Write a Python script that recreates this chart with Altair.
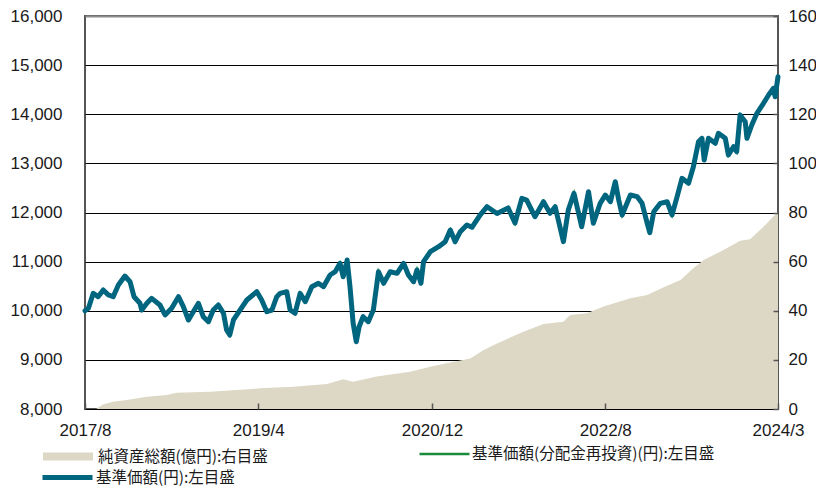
import altair as alt
import pandas as pd

# ---- data ----
nav_dates = [
    "2017-08-01", "2017-08-13", "2017-08-30", "2017-09-16", "2017-10-04", "2017-10-22",
    "2017-11-08", "2017-11-26", "2017-12-19", "2018-01-06", "2018-01-20", "2018-02-10",
    "2018-02-16", "2018-03-06", "2018-03-23", "2018-04-21", "2018-05-09", "2018-06-01",
    "2018-06-25", "2018-07-12", "2018-07-30", "2018-08-16", "2018-09-03", "2018-09-20",
    "2018-10-08", "2018-10-25", "2018-11-12", "2018-11-30", "2018-12-11", "2018-12-22",
    "2019-01-04", "2019-01-27", "2019-02-20", "2019-03-27", "2019-04-13", "2019-05-01",
    "2019-05-19", "2019-06-05", "2019-06-17", "2019-07-10", "2019-07-22", "2019-08-08",
    "2019-08-26", "2019-09-13", "2019-10-06", "2019-10-29", "2019-11-16", "2019-12-09",
    "2019-12-27", "2020-01-13", "2020-01-24", "2020-02-07", "2020-02-17", "2020-02-28",
    "2020-03-10", "2020-03-20", "2020-04-03", "2020-04-21", "2020-05-09", "2020-05-27",
    "2020-06-14", "2020-07-07", "2020-07-31", "2020-08-23", "2020-09-09", "2020-09-27",
    "2020-10-09", "2020-10-23", "2020-11-01", "2020-11-25", "2020-12-24", "2021-01-16",
    "2021-02-03", "2021-02-20", "2021-03-10", "2021-04-02", "2021-04-20", "2021-05-19",
    "2021-06-12", "2021-07-17", "2021-08-25", "2021-09-18", "2021-10-12", "2021-10-29",
    "2021-11-27", "2021-12-27", "2022-01-19", "2022-02-06", "2022-03-07", "2022-03-24",
    "2022-04-13", "2022-05-10", "2022-06-03", "2022-06-20", "2022-07-14", "2022-08-01",
    "2022-08-19", "2022-09-05", "2022-09-17", "2022-09-29", "2022-10-28", "2022-11-21",
    "2022-12-08", "2022-12-26", "2023-01-04", "2023-01-18", "2023-02-10", "2023-03-06",
    "2023-03-23", "2023-04-10", "2023-04-27", "2023-05-20", "2023-06-06", "2023-06-24",
    "2023-07-06", "2023-07-14", "2023-07-29", "2023-08-22", "2023-09-02", "2023-09-26",
    "2023-10-07", "2023-10-25", "2023-11-05", "2023-11-17", "2023-12-05", "2023-12-11",
    "2023-12-28", "2024-01-15", "2024-02-07", "2024-02-25", "2024-03-13", "2024-03-19",
    "2024-03-29",
]
nav_values = [
    10000, 10050, 10355, 10286, 10422, 10321,
    10286, 10524, 10707, 10591, 10286, 10152,
    10015, 10152, 10253, 10117, 9914, 10050,
    10286, 10083, 9812, 9981, 10152, 9879,
    9777, 10015, 10117, 9948, 9608, 9506,
    9812, 10015, 10219, 10388, 10219, 9981,
    10015, 10286, 10355, 10388, 10015, 9948,
    10355, 10184, 10490, 10559, 10490, 10728,
    10795, 10966, 10693, 11033, 10490, 9745,
    9370, 9675, 9879, 9777, 10015, 10795,
    10559, 10795, 10762, 10966, 10728, 10591,
    10830, 10559, 10999, 11202, 11304, 11406,
    11644, 11406, 11609, 11746, 11700, 11950,
    12118, 11980, 12092, 11786, 12289, 12254,
    11915, 12220, 11984, 12118, 11406, 12050,
    12391, 11711, 12423, 11780, 12187, 12356,
    12220, 12627, 12254, 11949, 12356, 12322,
    12187, 11780, 11589, 12016, 12187, 12220,
    11949, 12322, 12696, 12594, 12932, 13441,
    13510, 13069, 13510, 13409, 13612, 13510,
    13171, 13339, 13238, 13985, 13848, 13510,
    13781, 14019, 14223, 14392, 14528, 14357,
    14764,
]
# no distributions were paid, so the reinvested NAV equals the NAV
nav_reinvest_values = list(nav_values)

aum_dates = [
    "2017-08-01", "2017-09-10", "2017-09-15", "2017-10-03", "2017-11-07", "2017-12-25",
    "2018-03-06", "2018-05-15", "2018-06-19", "2018-10-14", "2019-04-08", "2019-08-02",
    "2019-11-28", "2020-01-24", "2020-02-28", "2020-05-21", "2020-09-15", "2020-12-06",
    "2021-02-03", "2021-04-14", "2021-05-31", "2021-07-17", "2021-10-18", "2021-12-27",
    "2022-03-07", "2022-03-30", "2022-05-28", "2022-07-26", "2022-10-28", "2022-12-26",
    "2023-02-22", "2023-04-22", "2023-06-06", "2023-07-12", "2023-09-20", "2023-11-17",
    "2023-12-22", "2024-02-07", "2024-03-26", "2024-03-29",
]
aum_values = [
    0, 0, 0.5, 1.8, 3.0, 3.7,
    5.0, 5.7, 6.6, 7.0, 8.4, 9.1,
    10.2, 12.1, 11.1, 13.2, 15.2, 17.5,
    18.9, 20.6, 24.0, 26.7, 31.5, 34.6,
    35.5, 38.3, 39.0, 41.7, 45.1, 46.4,
    49.6, 52.5, 57.3, 60.7, 64.7, 68.5,
    69.1, 74.2, 79.9, 80.0,
]

left_ticks = [8000, 9000, 10000, 11000, 12000, 13000, 14000, 15000, 16000]
right_ticks = [0, 20, 40, 60, 80, 100, 120, 140, 160]
x_tick_dates = [(2017, 8, 1), (2019, 4, 1), (2020, 12, 1), (2022, 8, 1), (2024, 3, 29)]

AUM_LABEL = "純資産総額(億円):右目盛"
REINV_LABEL = "基準価額(分配金再投資)(円):左目盛"
NAV_LABEL = "基準価額(円):左目盛"

BEIGE = "#dcd8c5"
GREEN = "#1a8a3c"
TEAL = "#00657e"
AXIS_FONT = "Liberation Sans"
LEG_FONT = "Noto Sans CJK JP"

nav_df = pd.DataFrame({"date": nav_dates, "value": nav_values, "series": NAV_LABEL})
reinv_df = pd.DataFrame({"date": nav_dates, "value": nav_reinvest_values, "series": REINV_LABEL})
aum_df = pd.DataFrame({"date": aum_dates, "value": aum_values, "series": AUM_LABEL})


def dt(t):
    return alt.DateTime(year=t[0], month=t[1], date=t[2], utc=True)


x_scale = alt.Scale(type="utc", domain=[dt(x_tick_dates[0]), dt(x_tick_dates[-1])])
x_axis = alt.Axis(
    values=[dt(t) for t in x_tick_dates], format="%Y/%-m", title=None,
    labelFlush=False, labelOverlap=False, domain=False, grid=False,
    ticks=True, tickSize=6, tickColor="#555555", tickWidth=1.5, offset=-6,
    labelPadding=13, labelFont=AXIS_FONT, labelFontSize=17, labelColor="#1a1a1a",
    zindex=1,
)
left_axis = alt.Axis(
    orient="left", values=left_ticks, format=",d", title=None,
    domain=False, ticks=False, tickSize=0, labelPadding=23, labelFlush=False,
    labelFont=AXIS_FONT, labelFontSize=17, labelColor="#1a1a1a",
    grid=True,
    gridColor={"condition": {"test": "datum.value === 16000", "value": "#8c8c8c"},
               "value": "#000000"},
    gridWidth={"condition": {"test": "datum.value === 16000", "value": 2}, "value": 1},
    zindex=0,
)
right_axis = alt.Axis(
    orient="right", values=right_ticks, format="d", title=None,
    domain=False, ticks=True, tickSize=5, tickColor="#555555", tickWidth=1.5,
    offset=-5, labelPadding=10, labelFlush=False, grid=False,
    labelFont=AXIS_FONT, labelFontSize=17, labelColor="#1a1a1a", zindex=1,
)


def legend(x, y, color, width):
    return alt.Legend(
        title=None, orient="none", legendX=x, legendY=y, padding=0,
        symbolType="stroke", symbolSize=2500, symbolStrokeWidth=width,
        symbolStrokeColor=color, symbolFillColor=color, symbolOpacity=1,
        labelFont=LEG_FONT, labelFontSize=15.5, labelColor="#1a1a1a",
        labelOffset=1, labelLimit=500,
    )


x_enc = alt.X("date:T", scale=x_scale, axis=x_axis)

area = alt.Chart(aum_df).mark_area(opacity=1, interpolate="linear").encode(
    x=x_enc,
    y=alt.Y("value:Q", scale=alt.Scale(domain=[0, 160], nice=False, zero=True), axis=right_axis),
    color=alt.Color("series:N", scale=alt.Scale(domain=[AUM_LABEL], range=[BEIGE]),
                    legend=legend(-46, 411.5, BEIGE, 8)),
)

left_scale = alt.Scale(domain=[8000, 16000], nice=False, zero=False)

reinv_line = alt.Chart(reinv_df).mark_line(strokeWidth=2.5).encode(
    x=x_enc,
    y=alt.Y("value:Q", scale=left_scale, axis=left_axis),
    color=alt.Color("series:N", scale=alt.Scale(domain=[REINV_LABEL], range=[GREEN]),
                    legend=legend(333, 411.5, GREEN, 2.5)),
)

nav_line = alt.Chart(nav_df).mark_line(strokeWidth=5, strokeCap="round", strokeJoin="round").encode(
    x=x_enc,
    y=alt.Y("value:Q", scale=left_scale, axis=left_axis),
    color=alt.Color("series:N", scale=alt.Scale(domain=[NAV_LABEL], range=[TEAL]),
                    legend=legend(-45, 434, TEAL, 5)),
)

lines = alt.layer(reinv_line, nav_line).resolve_scale(color="independent")

chart = (
    alt.layer(area, lines)
    .resolve_scale(y="independent", color="independent")
    .properties(
        width=693, height=393,
        padding={"left": 77, "top": 8, "right": 38, "bottom": 80},
        autosize=alt.AutoSizeParams(type="none"),
        background="white",
    )
    .configure_view(stroke="#555555", strokeWidth=2)
)

chart.save("out.html", embed_options={"renderer": "svg", "actions": False})
